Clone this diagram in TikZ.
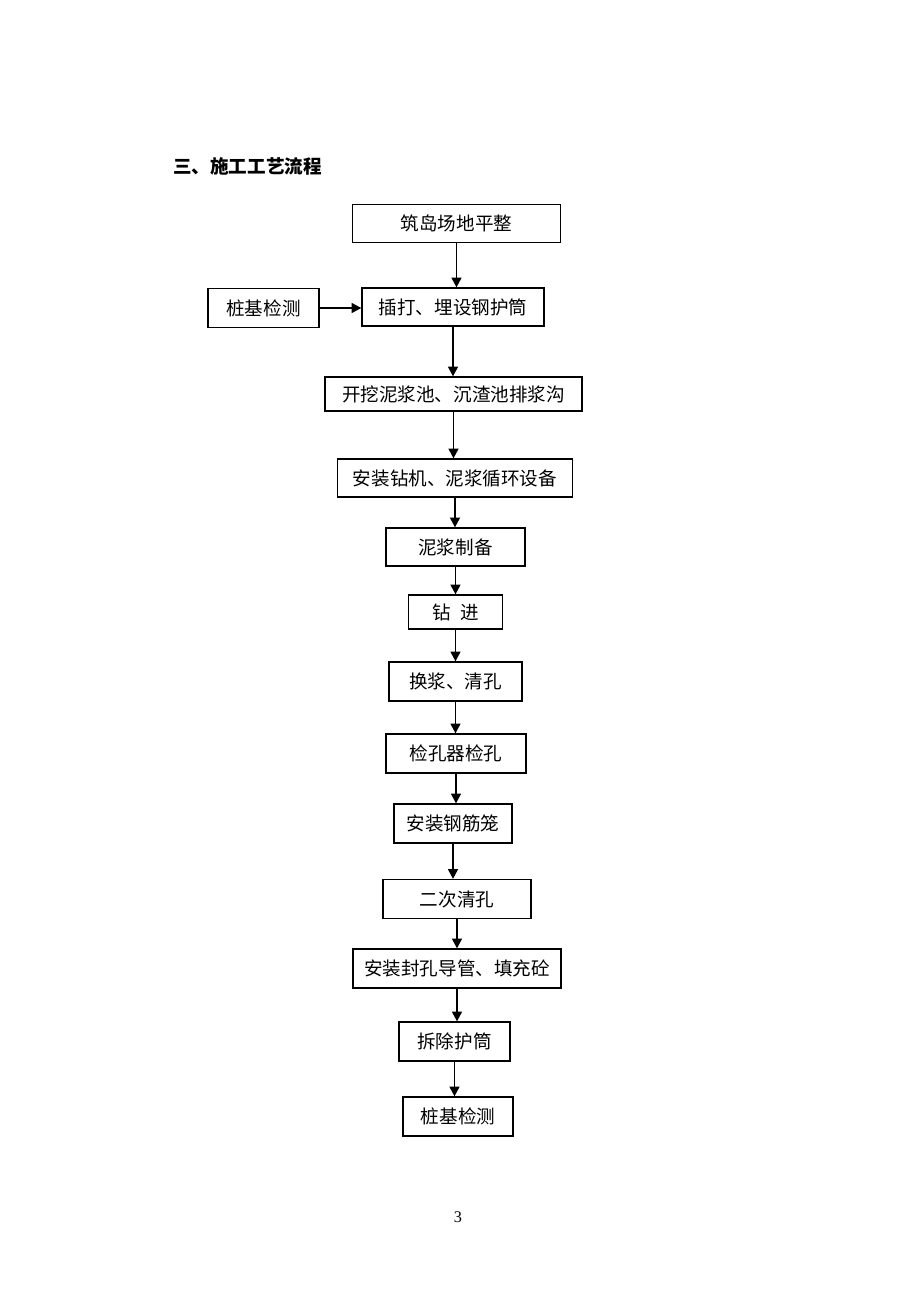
\documentclass[tikz,border=0pt]{standalone}
\usepackage{fontspec}
\setmainfont{Liberation Serif}
\newfontfamily\cjk{Noto Sans CJK SC}
\usepackage{tikz}
\usetikzlibrary{arrows.meta}
\newcommand{\pxu}{0.6467pt}
\tikzstyle{flow edge}=[-{Triangle[length=6.2pt,width=6.4pt]},line width=0.9pt]
\tikzstyle{flow box}=[draw,line width=0.9pt,inner sep=0pt,font=\cjk\fontsize{12}{14}\selectfont]
\newcommand{\flownode}[5][]{
  \node [flow box, minimum width=#4*\pxu, minimum height=#5*\pxu, #1] (#2) {#3}
}

\begin{document}
\begin{tikzpicture}[x=\pxu,y=-\pxu]
        \useasboundingbox (0,0) rectangle (920,1302);
        \node [anchor=west, inner sep=0pt, font=\cjk\bfseries\fontsize{12}{14}\selectfont] (title) at (173,166) {三、施工工艺流程};
        \flownode[at={(456.5,223.5)}]{site}{筑岛场地平整}{208}{38};
        \flownode[at={(263.5,308)}]{test1}{桩基检测}{111}{39};
        \flownode[at={(453,307)}]{casing}{插打、埋设钢护筒}{182}{38};
        \flownode[at={(453.5,394)}]{pits}{开挖泥浆池、沉渣池排浆沟}{257}{34};
        \flownode[at={(455,478)}]{rig}{安装钻机、泥浆循环设备}{235}{38};
        \flownode[at={(455.5,547)}]{mud}{泥浆制备}{139}{38};
        \flownode[at={(455.5,612)}]{drill}{钻\hspace{0.5em}进}{94}{34};
        \flownode[at={(455.5,681.5)}]{clean1}{换浆、清孔}{133}{39};
        \flownode[at={(456,753.5)}]{check}{检孔器检孔}{140}{39};
        \flownode[at={(453,823.5)}]{cage}{安装钢筋笼}{118}{39};
        \flownode[at={(457,899)}]{clean2}{二次清孔}{148}{39};
        \flownode[at={(457,968.5)}]{pipe}{安装封孔导管、填充砼}{208}{39};
        \flownode[at={(454.5,1041.5)}]{remove}{拆除护筒}{111}{39};
        \flownode[at={(458,1116.5)}]{test2}{桩基检测}{110}{39};
      \draw[flow edge] (site.south) -- (site.south |- casing.north);
      \draw[flow edge] (test1.east) -- (test1.east -| casing.west);
            \draw[flow edge] (casing.south) -- (casing.south |- pits.north);
                  \draw[flow edge] (pits.south) -- (pits.south |- rig.north);
                        \draw[flow edge] (rig.south) -- (rig.south |- mud.north);
                              \draw[flow edge] (mud.south) -- (mud.south |- drill.north);
                              \draw[flow edge] (drill.south) -- (drill.south |- clean1.north);
                              \draw[flow edge] (clean1.south) -- (clean1.south |- check.north);
                              \draw[flow edge] (check.south) -- (check.south |- cage.north);
                              \draw[flow edge] (cage.south) -- (cage.south |- clean2.north);
                              \draw[flow edge] (clean2.south) -- (clean2.south |- pipe.north);
                              \draw[flow edge] (pipe.south) -- (pipe.south |- remove.north);
                              \draw[flow edge] (remove.south) -- (remove.south |- test2.north);

        \node [font=\fontsize{10.5}{12}\selectfont] (page) at (458,1217) {3};
      \end{tikzpicture}
\end{document}
